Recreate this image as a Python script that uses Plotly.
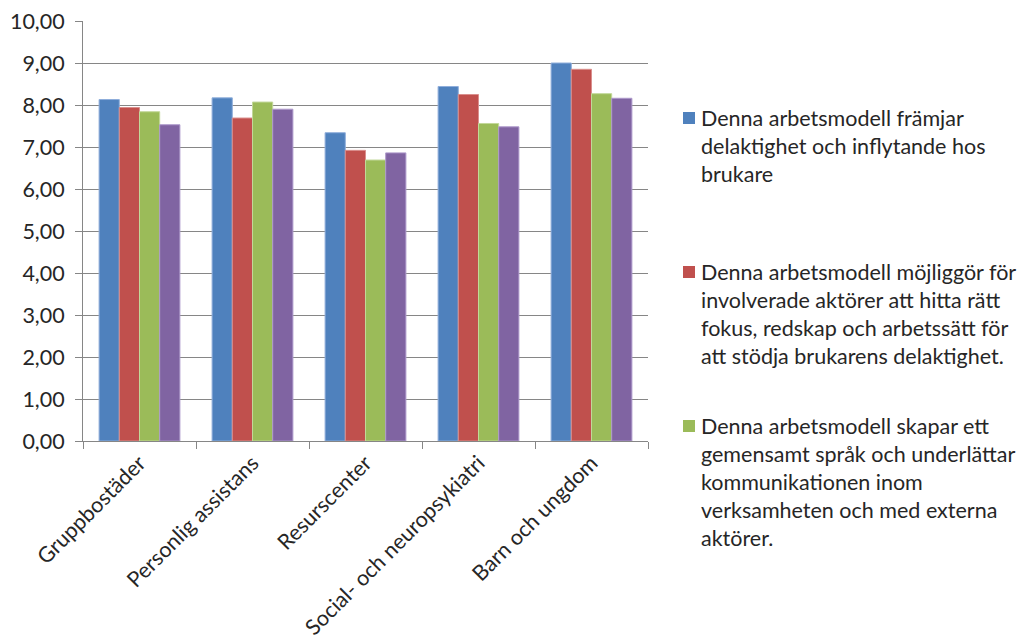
import plotly.graph_objects as go

categories = ["Gruppbostäder", "Personlig assistans", "Resurscenter",
              "Social- och neuropsykiatri", "Barn och ungdom"]

series_names = [
    "Denna arbetsmodell främjar<br>delaktighet och inflytande hos<br>brukare",
    "Denna arbetsmodell möjliggör för<br>involverade aktörer att hitta rätt<br>fokus, redskap och arbetssätt för<br>att stödja brukarens delaktighet.",
    "Denna arbetsmodell skapar ett<br>gemensamt språk och underlättar<br>kommunikationen inom<br>verksamheten och med externa<br>aktörer.",
    "Serie 4",
]

values_1 = [8.13, 8.17, 7.34, 8.44, 9.00]
values_2 = [7.94, 7.69, 6.92, 8.25, 8.85]
values_3 = [7.84, 8.07, 6.69, 7.56, 8.27]
values_4 = [7.53, 7.90, 6.86, 7.48, 8.16]

colors = ["#4F81BD", "#C0504D", "#9BBB59", "#8064A2"]
edge_colors = ["#8FAEDB", "#DA8F8D", "#C2D899", "#AD99CB"]
show_in_legend = [True, True, True, False]

y_ticks = [0, 1, 2, 3, 4, 5, 6, 7, 8, 9, 10]

FONT = "Lato, Carlito, Calibri, sans-serif"
TXT = "#262626"
GRID = "#868686"

W, H = 1024, 638
L, R, T, B = 83, 376, 21, 197
pw, ph = W - L - R, H - T - B

fig = go.Figure()
all_values = [values_1, values_2, values_3, values_4]
for name, vals, c, ec in zip(series_names, all_values, colors, edge_colors):
    fig.add_trace(go.Bar(
        x=categories, y=vals, name=name.replace("<br>", " "),
        marker=dict(color=c, line=dict(color=ec, width=1)),
        showlegend=False,
    ))

# manual legend (Excel style: square aligned with first text line)
slot_top = 112
slot_step = 154
k = 0
for name, c, show in zip(series_names, colors, show_in_legend):
    if not show:
        continue
    top_px = slot_top + slot_step * k
    fig.add_shape(type="rect", xref="paper", yref="paper",
                  x0=(683 - L) / pw, x1=(695 - L) / pw,
                  y0=(H - B - top_px) / ph, y1=(H - B - top_px - 12) / ph,
                  fillcolor=c, line=dict(width=0))
    fig.add_annotation(xref="paper", yref="paper",
                       x=(699 - L) / pw, y=(H - B - (top_px - 9)) / ph,
                       xanchor="left", yanchor="top", align="left",
                       text=name, showarrow=False,
                       font=dict(family=FONT, size=21.5, color=TXT))
    k += 1

fig.update_layout(
    width=W, height=H,
    margin=dict(l=L, r=R, t=T, b=B, autoexpand=False),
    paper_bgcolor="white", plot_bgcolor="white",
    barmode="group", bargap=0.285, bargroupgap=0,
    separators=", ",
    font=dict(family=FONT, size=21.5, color=TXT),
    showlegend=False,
)
fig.update_yaxes(
    range=[0, 10], tickvals=y_ticks, tickformat=".2f",
    showgrid=True, gridcolor=GRID, gridwidth=1,
    showline=True, linecolor=GRID, linewidth=1,
    ticks="outside", ticklen=7, tickcolor=GRID, ticklabelstandoff=6,
    zeroline=False, automargin=False,
    tickfont=dict(family=FONT, size=21.5, color=TXT),
)
fig.update_xaxes(
    showline=True, linecolor=GRID, linewidth=1,
    ticks="outside", ticklen=7, tickcolor=GRID, tickson="boundaries",
    tickangle=-45, automargin=False,
    tickfont=dict(family=FONT, size=21.5, color=TXT),
)

fig.write_html("out.html")
